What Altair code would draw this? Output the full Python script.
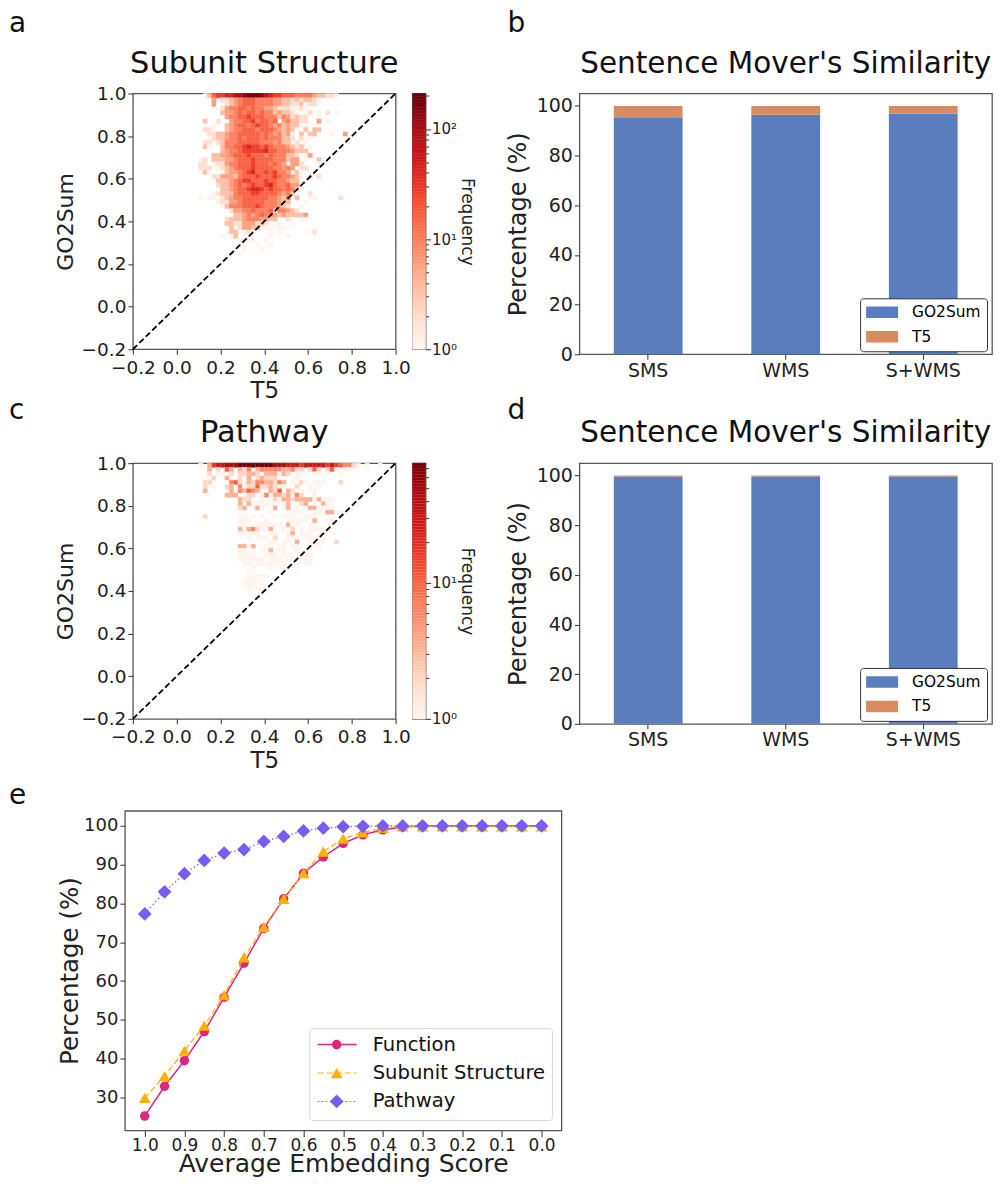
import altair as alt
import numpy as np
import pandas as pd

FONT = "DejaVu Sans"
LEVELS = {'1': 1, '2': 2, '3': 3.5, '4': 6, '5': 10, '6': 16, '7': 28, '8': 45, '9': 80, 'A': 130, 'B': 200}
REDS = ["#fff5f0", "#fee0d2", "#fcbba1", "#fc9272", "#fb6a4a", "#ef3b2c", "#cb181d", "#a50f15", "#67000d"]

# each string is a row of the 2D histogram, top row first; first char is the bin starting at T5=0.10
rows_a = [
    ".136778899ABBBA98776665555433221",
    "...4.2234566655554433232332 1",
    "...4.123456665555443322312 2",
    "....124556656554432221121",
    ".....3445656656553433 21.12.1.2.1",
    "......45566766655535423 22..1",
    ".3..2..4556675665 6.45332 2..4.1",
    ".1.1..34566567665 4534331 1.1",
    ".221..345566656665 4343 1.3.33",
    "..22334556666656 54534 1.3.33...1..4",
    "..123345565666565 5533 2.211",
    ".22.2355566666 55545 33.2.1",
    ".31..3556678776765554323.1",
    ".....34556777778665554333",
    "...33445666766656555 3321 14",
    "12.33344566676666555344.1..3",
    "22.12245566676665654.442...11",
    "222.1234566676666554 54.221",
    "131..1344567866767554.31",
    "...2244435666766676554 31.2.2",
    "....33345677666766554 33",
    "....233456567667865564 4",
    ".....3345667887676656531",
    "...12333566677666654531..2",
    "1.11123455666666554 35.3..11.....2",
    "....12244566666555433...1",
    ".....13555666765554 32..1",
    ".......2445565556.55432",
    "........33454565543433334",
    "......233345554433..21.11",
    "......33224442321 11..1",
    ".......3.24433.11.11",
    "......133.121...1.1.......2",
    ".....1.13..1....1...1",
    ".........1111..1",
    "..........1..1..1",
    "..........1...1",
    ".........1",
]
rows_c = [
    "1.367788899999999888777677777 67654421.1..1",
    "..3.2.53.324.34444433 422.252.251.11",
    "..2.11.2.22332.33313 2.111.11.1..1",
    "..12..3..213.23222 1..11",
    ".22....4521324433243.11 21.111...2",
    ".2.1..23.412252232 11..2..1.1",
    ".3.....3.43543.1325.321 1.11",
    "..1...333.12211 4.33 23.42..1",
    ".........322..1.12 1332333 3.3111",
    ".........3.31111111131.23.1.31",
    ".........23.131..3.13.1..3 3111 1",
    "................1...1111..111 33111",
    ".2.......11.1.1..1.111..111",
    ".........111...1....1111 1.3..11",
    ".........11..111111.3 11..1",
    ".........3134 2113..1.2.1.1111",
    ".........11.11..11..13.111",
    "...........1.111.2..111.111.1",
    "................11.11.3..1111..2",
    ".........331 3..11.11.11..111",
    ".........11.1.113.11..1..1",
    ".........1111..111.11..111",
    ".........111111.111.111111",
    "..........11.1111111..1.11",
    "............1...1.11..1",
    "...........11",
    "...........11111",
    "..........11111",
    "..........111.1",
    "...........1.11",
]
categories = ["SMS", "WMS", "S+WMS"]
go2sum_b = [95.4, 96.4, 96.8]
t5_b = [4.6, 3.6, 3.2]
go2sum_d = [99.6, 99.6, 99.6]
t5_d = [0.4, 0.4, 0.4]

scores = [1.0, .95, .9, .85, .8, .75, .7, .65, .6, .55, .5, .45, .4, .35, .3, .25, .2, .15, .1, .05, 0.0]
function_v = [25.2, 32.9, 39.5, 47.0, 55.8, 64.6, 73.6, 81.2, 87.8, 92.0, 95.5, 97.7, 99.0, 99.7, 100, 100, 100, 100, 100, 100, 100]
subunit_v = [29.9, 35.5, 42.1, 48.5, 56.4, 66.1, 74.0, 81.2, 87.8, 93.4, 96.7, 98.3, 99.5, 99.9, 99.9, 99.9, 99.9, 99.9, 99.9, 99.9, 99.9]
pathway_v = [77.3, 83.0, 87.7, 91.1, 93.0, 93.9, 96.0, 97.3, 98.7, 99.4, 99.8, 99.9, 100, 100, 100, 100, 100, 100, 100, 100, 100]

PINK, AMBER, PURPLE = "#DC267F", "#FFB000", "#785EF0"
BLUE, ORANGE = "#5A7DBE", "#D98A5F"


def cells(rows):
    out = []
    for r, s in enumerate(rows):
        for i, ch in enumerate(s.replace(" ", "")):
            if ch in LEVELS:
                x = 0.10 + 0.02 * i
                y = 1.0 - 0.02 * (r + 1)
                out.append({"x": x, "x2": x + 0.02, "y": y, "y2": y + 0.02, "f": LEVELS[ch]})
    return pd.DataFrame(out)


def log_scale(maxf):
    dom = [float(v) for v in np.geomspace(1, maxf, len(REDS))]
    return alt.Scale(type="log", domain=dom, range=REDS, clamp=True)


def label(ch, x, y):
    return alt.Chart(pd.DataFrame({"t": [ch]})).mark_text(
        text=ch, fontSize=28, font=FONT, align="left", baseline="middle", color="#111"
    ).encode(x=alt.value(x), y=alt.value(y))


def ptitle(text, x, size=30.5):
    return alt.Chart(pd.DataFrame({"t": [text]})).mark_text(
        text=text, fontSize=size, font=FONT, align="center", baseline="middle", color="#111"
    ).encode(x=alt.value(x), y=alt.value(-30))


def heat(rows, title, maxf, tag, ly):
    W, H = 263, 256
    ticks = [-0.2, 0, 0.2, 0.4, 0.6, 0.8, 1.0]
    xs = alt.Scale(domain=[-0.2, 1.0], nice=False, zero=False)
    rect = alt.Chart(cells(rows)).mark_rect(strokeWidth=0.4).encode(
        x=alt.X("x:Q", scale=xs, axis=alt.Axis(values=ticks, format=".1f", title="T5", titleFontSize=23, labelFontSize=18.5, titlePadding=3, labelPadding=4, labelOverlap=False, labelFlush=False)),
        x2="x2:Q",
        y=alt.Y("y:Q", scale=xs, axis=alt.Axis(values=ticks, format=".1f", title="GO2Sum", titleFontSize=22, labelFontSize=18.5, titlePadding=4, labelOverlap=False, labelFlush=False)),
        y2="y2:Q",
        color=alt.Color("f:Q", scale=log_scale(maxf), legend=None),
        stroke=alt.Stroke("f:Q", scale=log_scale(maxf), legend=None),
    )
    diag = alt.Chart(pd.DataFrame({"x": [-0.2, 1.0], "y": [-0.2, 1.0]})).mark_line(
        color="black", strokeDash=[6, 3], strokeWidth=1.8
    ).encode(x=alt.X("x:Q", scale=xs), y=alt.Y("y:Q", scale=xs))
    return alt.layer(rect, diag, ptitle(title, W / 2), label(tag, -124, ly)).properties(width=W, height=H)


def colorbar(maxf):
    edges = np.geomspace(1, maxf, 90)
    df = pd.DataFrame({"lo": edges[:-1], "hi": edges[1:], "f": np.sqrt(edges[:-1] * edges[1:])})
    tick_vals = [v for v in [1, 2, 3, 4, 5, 6, 7, 8, 9, 10, 20, 30, 40, 50, 60, 70, 80, 90, 100, 200] if v <= maxf]
    major = "datum.value==1||datum.value==10||datum.value==100"
    return alt.Chart(df).mark_rect(strokeWidth=0.5).encode(
        y=alt.Y("lo:Q", scale=alt.Scale(type="log", domain=[1, maxf], nice=False), axis=alt.Axis(
            orient="right", values=tick_vals, title="Frequency", titleAngle=90, titleFontSize=17, titleFontWeight="normal",
            titlePadding=1, labelFontSize=15, labelPadding=1, labelOverlap=False,
            labelExpr="datum.value==1?'10⁰':datum.value==10?'10¹':datum.value==100?'10²':''",
            tickSize=alt.expr(f"({major})?5:3"),
        )),
        y2="hi:Q",
        color=alt.Color("f:Q", scale=log_scale(maxf), legend=None),
        stroke=alt.Stroke("f:Q", scale=log_scale(maxf), legend=None),
    ).properties(width=13, height=256)


def bars(go, t5, tag, ly):
    df = pd.DataFrame({
        "cat": categories * 2,
        "s": ["GO2Sum"] * 3 + ["T5"] * 3,
        "o": [0] * 3 + [1] * 3,
        "v": list(go) + list(t5),
    })
    b = alt.Chart(df).mark_bar().encode(
        x=alt.X("cat:N", sort=categories, scale=alt.Scale(paddingInner=0.5, paddingOuter=0.25),
                axis=alt.Axis(title=None, labelAngle=0, labelFontSize=19, labelPadding=2)),
        y=alt.Y("sum(v):Q", stack="zero", scale=alt.Scale(domain=[0, 105], nice=False),
                axis=alt.Axis(values=[0, 20, 40, 60, 80, 100], title="Percentage (%)", titleFontSize=24, labelFontSize=19, titlePadding=6)),
        color=alt.Color("s:N", scale=alt.Scale(domain=["GO2Sum", "T5"], range=[BLUE, ORANGE]), legend=alt.Legend(
            title=None, orient="none", legendX=281, legendY=205, fillColor="white", strokeColor="#333",
            cornerRadius=3, padding=6, labelFontSize=15.4, labelFont=FONT, labelOffset=30, rowPadding=7.5,
            symbolType="M-1,-0.72H3V0.72H-1Z", symbolSize=256, symbolStrokeWidth=0,
        )),
        order=alt.Order("o:Q", sort="ascending"),
    )
    return alt.layer(b, ptitle("Sentence Mover's Similarity", 206.5, 29.5), label(tag, -72, ly)).properties(width=413, height=261)


def lines():
    xs = alt.Scale(domain=[1.05, -0.05], nice=False, zero=False)
    ys = alt.Scale(domain=[21.5, 103.9], nice=False, zero=False)
    tickv = [round(i * 0.05, 2) for i in range(21)]
    xaxis = alt.Axis(values=tickv, title="Average Embedding Score", titleFontSize=25, labelFontSize=17, titlePadding=-2,
                     labelFlush=False, labelOverlap=False, labelPadding=1,
                     labelExpr="round(datum.value*100)%10==0?format(datum.value,'.1f'):''",
                     tickSize=alt.expr("round(datum.value*100)%10==0?6:4"))
    yaxis = alt.Axis(values=[30, 40, 50, 60, 70, 80, 90, 100], title="Percentage (%)", titleFontSize=24.5, labelFontSize=18, titlePadding=1)
    layers = []
    specs = [
        (function_v, PINK, None, "circle", 90, 1.5),
        (subunit_v, AMBER, [6, 3], "triangle-up", 140, 1.2),
        (pathway_v, PURPLE, [1.5, 2.5], "diamond", 190, 1.2),
    ]
    for vals, col, dash, shape, size, lw in specs:
        df = pd.DataFrame({"x": scores, "y": vals})
        lk = dict(color=col, strokeWidth=lw)
        if dash:
            lk["strokeDash"] = dash
        layers.append(alt.Chart(df).mark_line(**lk).encode(x=alt.X("x:Q", scale=xs, axis=xaxis), y=alt.Y("y:Q", scale=ys, axis=yaxis)))
        layers.append(alt.Chart(df).mark_point(shape=shape, size=size, filled=True, color=col, opacity=1).encode(
            x=alt.X("x:Q", scale=xs), y=alt.Y("y:Q", scale=ys)))
    one = pd.DataFrame({"t": [""]})
    layers.append(alt.Chart(one).mark_rect(fill="white", fillOpacity=0.85, stroke="#d8d8d8", strokeWidth=1, cornerRadius=3).encode(
        x=alt.value(185), x2=alt.value(428), y=alt.value(218), y2=alt.value(310)))
    names = ["Function", "Subunit Structure", "Pathway"]
    for k, (name, (_, col, dash, shape, size, lw)) in enumerate(zip(names, specs)):
        yy = 234 + 28.5 * k
        lk = dict(color=col, strokeWidth=lw)
        if dash:
            lk["strokeDash"] = dash
        layers.append(alt.Chart(one).mark_rule(**lk).encode(x=alt.value(193), x2=alt.value(232), y=alt.value(yy)))
        layers.append(alt.Chart(one).mark_point(shape=shape, size=size, filled=True, color=col, opacity=1).encode(x=alt.value(212), y=alt.value(yy)))
        layers.append(alt.Chart(one).mark_text(text=name, fontSize=19.6, font=FONT, align="left", baseline="middle", color="#111").encode(
            x=alt.value(248), y=alt.value(yy)))
    layers.append(label("e", -116, -15))
    return alt.layer(*layers).properties(width=437, height=320)


def spacer():
    return alt.Chart(pd.DataFrame({"t": [""]})).mark_text(text=" ", fontSize=1).encode(
        x=alt.value(0), y=alt.value(0)
    ).properties(width=1, height=1, view=alt.ViewConfig(stroke=None))


# Flush bounds: a nested concat counts as zero size, so its spacing is the origin-to-origin distance.
row1 = alt.hconcat(
    alt.hconcat(heat(rows_a, "Subunit Structure", 210, "a", -70), colorbar(210), spacing=17, bounds="flush"),
    bars(go2sum_b, t5_b, "b", -70), spacing=447, bounds="flush")
row2 = alt.hconcat(
    alt.hconcat(heat(rows_c, "Pathway", 76, "c", -52), colorbar(76), spacing=17, bounds="flush"),
    bars(go2sum_d, t5_d, "d", -52), spacing=447, bounds="flush")
upper = alt.vconcat(row1, row2, spacing=370, bounds="flush")
shifted = alt.hconcat(spacer(), upper, spacing=7, bounds="flush")
chart = alt.vconcat(shifted, lines(), spacing=718, bounds="flush").properties(
    padding={"left": 0, "top": 0, "right": 0, "bottom": 0}, background="white"
).configure_view(stroke="#555", strokeWidth=1.3).configure_axis(
    grid=False, domain=False, tickColor="#444", labelColor="#222", titleColor="#222",
    labelFont=FONT, titleFont=FONT, titleFontWeight="normal", tickSize=5, tickWidth=1.1
)
chart.save("out.html", embed_options={"renderer": "svg", "actions": False})
